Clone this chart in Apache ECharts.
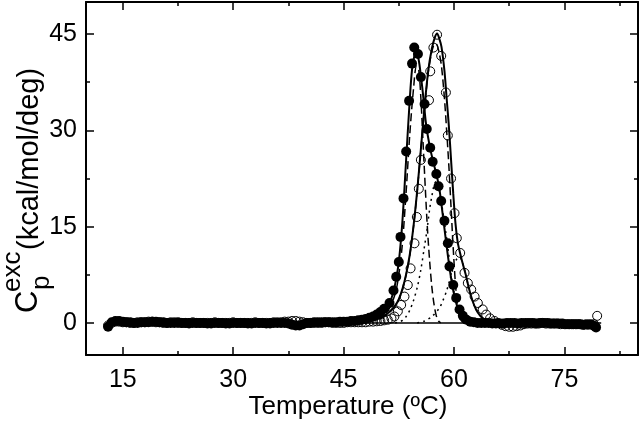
<!DOCTYPE html>
<html><head><meta charset="utf-8">
<script src="https://cdn.jsdelivr.net/npm/echarts@6/dist/echarts.min.js"></script>
<style>html,body{margin:0;padding:0;background:#fff}#c{width:640px;height:426px}</style>
</head><body><div id="c"></div>
<script>
// ---- tick values ----
const xMajor = [15, 30, 45, 60, 75];
const xMinor = [22.5, 37.5, 52.5, 67.5, 82.5];
const yMajor = [0, 15, 30, 45];
const yMinor = [7.5, 22.5, 37.5];

// ---- filled circles (T, Cp) ----
const filledLeft = [[13.0,-0.6],[13.5,0.1],[14,0.3],[14.5,0.3],[15,0.2],[15.5,0.1],[16,0.1],[16.5,0],[17,0],[17.5,0.1],[18,0.1],[18.5,0.1],[19,0.2],[19.5,0.2],[20,0.1],[20.5,0.1],[21,0],[21.5,0],[22,0],[22.5,0.1],[23,0],[23.5,0],[24,-0.1],[24.5,0],[25,0],[25.5,0],[26,0],[26.5,-0.1],[27,-0.1],[27.5,0],[28,0],[28.5,0],[29,-0.1],[29.5,-0.1],[30,0],[30.5,0],[31,0],[31.5,0],[32,-0.1],[32.5,-0.1],[33,0],[33.5,0],[34,0],[34.5,-0.1],[35,-0.1],[35.5,0],[36,0],[36.5,0],[37,0],[37.5,-0.1],[38,-0.3],[38.5,-0.4],[39,-0.4],[39.5,-0.2],[40,0],[40.5,0],[41,0.1],[41.5,0.1],[42,0.1],[42.5,0.1],[43,0.1],[43.5,0.1],[44,0.1],[44.5,0.2],[45,0.2],[45.5,0.2],[46,0.3],[46.5,0.3],[47,0.4],[47.5,0.5],[48,0.6],[48.5,0.8],[49,1.0],[49.5,1.3],[50,1.7],[50.5,2.2]];
const filledPeak = [[51.24,3.1],[51.78,5.06],[52.15,7.2],[52.5,9.5],[52.73,13.4],[53.14,19.4],[53.5,26.7],[53.9,34.6],[54.3,40.4],[54.6,42.9],[55.1,41.9],[55.5,38.3],[56.0,34.1],[56.3,30.2],[56.77,27.3],[57.1,25.1],[57.6,23.2],[57.9,21.3],[58.26,19.0],[58.7,15.9],[59.16,12.4],[59.39,8.8],[59.9,5.9],[60.3,3.9],[60.75,2.1]];
const filledRight = [[61.2,1.1],[61.7,0.5],[62.2,0.2],[62.7,0.1],[63.2,0],[63.7,0],[64.2,0],[64.7,0],[65.2,-0.1],[65.7,-0.1],[66.2,-0.1],[66.7,-0.1],[67.2,0],[67.7,0],[68.2,0],[68.7,-0.1],[69.2,0],[69.7,0],[70.2,0],[70.7,0],[71.2,-0.1],[71.7,0],[72.2,0],[72.7,0],[73.2,-0.1],[73.7,-0.1],[74.2,-0.1],[74.7,-0.1],[75.2,-0.2],[75.7,-0.2],[76.2,-0.2],[76.7,-0.2],[77.2,-0.2],[77.7,-0.3],[78.2,-0.3],[78.7,-0.3],[79.1,-0.5],[79.3,-0.7]];

// ---- open circles (T, Cp) ----
const openLeft = [[13.0,-0.4],[13.5,0],[14,0.2],[14.5,0.2],[15,0.1],[15.5,0.1],[16,0],[16.5,0],[17,0.1],[17.5,0.1],[18,0.1],[18.5,0.2],[19,0.2],[19.5,0.1],[20,0.1],[20.5,0],[21,0],[21.5,0.1],[22,0.1],[22.5,0],[23,0],[23.5,0],[24,0],[24.5,0.1],[25,0],[25.5,0],[26,0],[26.5,0],[27,0],[27.5,0.1],[28,0],[28.5,0],[29,0],[29.5,0],[30,0.1],[30.5,0],[31,0],[31.5,0],[32,0],[32.5,0],[33,0.1],[33.5,0],[34,0],[34.5,0],[35,0],[35.5,0.1],[36,0.1],[36.5,0.1],[37,0.2],[37.5,0.2],[38,0.3],[38.5,0.3],[39,0.2],[39.5,0.1],[40,0],[40.5,0],[41,0],[41.5,0],[42,0],[42.5,0.1],[43,0.1],[43.5,0],[44,0],[44.5,0],[45,0],[45.5,0.1],[46,0.1],[46.5,0.1],[47,0.1],[47.5,0.1],[48,0.1],[48.5,0.2],[49,0.2],[49.5,0.25],[50,0.3],[50.5,0.4],[51,0.5]];
const openPeak = [[51.5,0.7],[51.9,1.0],[52.37,1.8],[52.82,2.8],[53.27,4.1],[53.72,5.9],[54.1,8.5],[54.63,12.4],[54.95,16.5],[55.22,20.9],[55.5,25.4],[56.6,34.7],[56.77,39.2],[57.2,42.9],[57.7,44.9],[58.26,41.6],[58.9,35.9],[59.16,29.2],[59.6,22.5],[60.07,17.1],[60.38,13.2],[60.84,10.9],[61.43,7.8],[61.88,6.2],[62.34,5.2],[62.8,4.1],[63.24,3.1],[63.9,2.1],[64.37,1.3],[64.9,0.7]];
const openRight = [[65.5,0.3],[66,0],[66.5,-0.3],[67,-0.5],[67.5,-0.6],[68,-0.6],[68.5,-0.5],[69,-0.4],[69.5,-0.2],[70,-0.1],[70.5,-0.1],[71,-0.1],[71.5,-0.1],[72,0],[72.5,-0.1],[73,-0.1],[73.5,-0.1],[74,-0.1],[74.5,-0.2],[75,-0.2],[75.5,-0.2],[76,-0.2],[76.5,-0.2],[77,-0.2],[77.5,-0.3],[78,-0.2],[78.5,-0.2],[79,-0.2],[79.45,1.1]];

// ---- fitted curves (T, Cp) ----
const fitFilled = [[40,0],[45,0.1],[47,0.3],[48,0.5],[49,0.8],[50,1.3],[50.5,1.8],[51,2.6],[51.5,3.8],[52,6],[52.5,9.5],[53,16],[53.5,25.5],[54,35],[54.3,39.5],[54.6,41.5],[54.9,42],[55.2,41],[55.5,38.5],[55.8,35.5],[56.2,31],[56.7,27.5],[57.2,25],[57.6,23.2],[58,21],[58.4,17.5],[58.8,13.8],[59.2,10.2],[59.6,7],[60,4.5],[60.5,2.3],[61,1.0],[61.5,0.4],[62,0.1],[63,0],[70,0]];
const fitOpen = [[40,0],[46,0.1],[48,0.2],[49,0.4],[50,0.8],[51,1.5],[52,2.7],[52.5,3.7],[53,5.3],[53.5,7.6],[54,10.7],[54.5,15.1],[55,20.6],[55.5,27.1],[56,33.7],[56.5,39.3],[57,42.8],[57.4,44.5],[57.7,45.1],[58,44.3],[58.3,43],[58.7,39.3],[59,35],[59.3,30.7],[59.6,25.4],[59.9,20.1],[60.2,15.5],[60.5,12.6],[60.8,11],[61.1,9.6],[61.6,7.5],[62,5.5],[62.5,3.5],[63,2.1],[63.5,1.2],[64,0.6],[64.5,0.25],[65,0.1],[66,0],[70,0]];
const dashedFilled = [[45,0],[50,0.7],[51,1.8],[52,4.5],[52.5,7.5],[53,12.5],[53.5,20.5],[54,29.5],[54.5,36.5],[54.9,40],[55.2,39.5],[55.5,35],[55.8,28],[56.1,21],[56.4,14.5],[56.7,9.5],[57,5.5],[57.3,2.8],[57.6,1.1],[57.9,0.3],[58.2,0]];
const dottedFilled = [[52,0],[52.5,0.15],[53,0.4],[53.5,1.0],[54,2.0],[54.5,3.5],[55,5.5],[55.5,8.3],[56,12],[56.3,14.2],[56.7,17.8],[57,19.8],[57.3,21.5],[57.6,22.1],[57.9,21.2],[58.3,18.7],[58.7,15.6],[59.2,11.5],[59.6,7.6],[60,4.8],[60.5,2.6],[61,1.1],[61.5,0.45],[62,0.15],[62.5,0]];
const dashedOpen = [[50,0.6],[51,1.4],[52,2.6],[52.5,3.6],[53,5.2],[53.5,7.5],[54,10.6],[54.5,15],[55,20.5],[55.5,27],[56,33.5],[56.5,39],[57,42.3],[57.4,43.5],[57.7,43.3],[58,42],[58.3,40],[58.7,35],[59,30],[59.3,24.5],[59.6,18],[59.9,11.5],[60.2,6],[60.5,2.5],[60.8,0.8],[61.1,0.2],[61.4,0]];
const dottedOpen = [[55,0],[56,0.3],[57,1.0],[58,2.3],[58.5,3.5],[59,5],[59.5,7],[60,9],[60.4,10],[60.8,10.2],[61.2,9.2],[61.6,7.5],[62,5.5],[62.5,3.5],[63,2.1],[63.5,1.2],[64,0.6],[64.5,0.25],[65,0.1],[66,0]];
const baseline = [[13,0],[80,0]];

const filled = filledLeft.concat(filledPeak, filledRight);
const open = openLeft.concat(openPeak, openRight);

const FONT = 'Liberation Sans, Arial, sans-serif';
const chart = echarts.init(document.getElementById('c'), null, {renderer: 'canvas'});

function xAx(pos, ticks, len, label, line) {
  return {type: 'value', position: pos, min: 10, max: 85, gridIndex: 0,
    axisLine: {show: line, onZero: false, lineStyle: {color: '#000', width: 2}},
    axisTick: {show: true, inside: true, length: len, customValues: ticks, lineStyle: {color: '#000', width: 1.5}},
    axisLabel: {show: label, customValues: ticks, color: '#000', fontSize: 25, fontFamily: FONT, margin: 13},
    splitLine: {show: false}};
}
function yAx(pos, ticks, len, label, line) {
  return {type: 'value', position: pos, min: -5, max: 50, gridIndex: 0,
    axisLine: {show: line, onZero: false, lineStyle: {color: '#000', width: 2}},
    axisTick: {show: true, inside: true, length: len, customValues: ticks, lineStyle: {color: '#000', width: 1.5}},
    axisLabel: {show: label, customValues: ticks, color: '#000', fontSize: 25, fontFamily: FONT, margin: 9},
    splitLine: {show: false}};
}
function curve(data, w, dash, z) {
  return {type: 'line', data: data, showSymbol: false, smooth: 0.3, z: z,
    lineStyle: {color: '#000', width: w, type: dash}};
}

const option = {
  animation: false,
  backgroundColor: '#fff',
  grid: {left: 86, right: 2, top: 2, bottom: 71},
  xAxis: [xAx('bottom', xMajor, 8, true, true), xAx('bottom', xMinor, 4, false, false),
          xAx('top', xMajor, 8, false, true), xAx('top', xMinor, 4, false, false)],
  yAxis: [yAx('left', yMajor, 8, true, true), yAx('left', yMinor, 4, false, false),
          yAx('right', yMajor, 8, false, true), yAx('right', yMinor, 4, false, false)],
  series: [
    curve(baseline, 1.5, 'solid', 1),
    {type: 'scatter', data: open, symbol: 'circle', symbolSize: 9, z: 2,
     itemStyle: {color: 'rgba(255,255,255,0)', borderColor: '#000', borderWidth: 1, opacity: 1}},
    {type: 'scatter', data: filled, symbol: 'circle', symbolSize: 10, z: 3,
     itemStyle: {color: '#000', borderWidth: 0, opacity: 1}},
    curve(dottedFilled, 1.5, [2, 4], 4),
    curve(dottedOpen, 1.5, [2, 4], 4),
    curve(dashedFilled, 1.5, [8, 4], 4),
    curve(dashedOpen, 1.5, [8, 4], 4),
    curve(fitFilled, 2, 'solid', 5),
    curve(fitOpen, 2, 'solid', 5)
  ],
  graphic: [
    {type: 'text', x: 348, y: 407, style: {text: 'Temperature (ºC)', font: '26px ' + FONT, fill: '#000', align: 'center', verticalAlign: 'middle'}},
    {type: 'text', x: 28, y: 313, rotation: Math.PI / 2, style: {text: 'C', font: '31px ' + FONT, fill: '#000', align: 'left', verticalAlign: 'middle'}},
    {type: 'text', x: 42, y: 290, rotation: Math.PI / 2, style: {text: 'p', font: '26px ' + FONT, fill: '#000', align: 'left', verticalAlign: 'middle'}},
    {type: 'text', x: 13, y: 292, rotation: Math.PI / 2, style: {text: 'exc', font: '26px ' + FONT, fill: '#000', align: 'left', verticalAlign: 'middle'}},
    {type: 'text', x: 30, y: 250, rotation: Math.PI / 2, style: {text: '(kcal/mol/deg)', font: '29px ' + FONT, fill: '#000', align: 'left', verticalAlign: 'middle'}}
  ]
};
chart.setOption(option);
</script></body></html>
